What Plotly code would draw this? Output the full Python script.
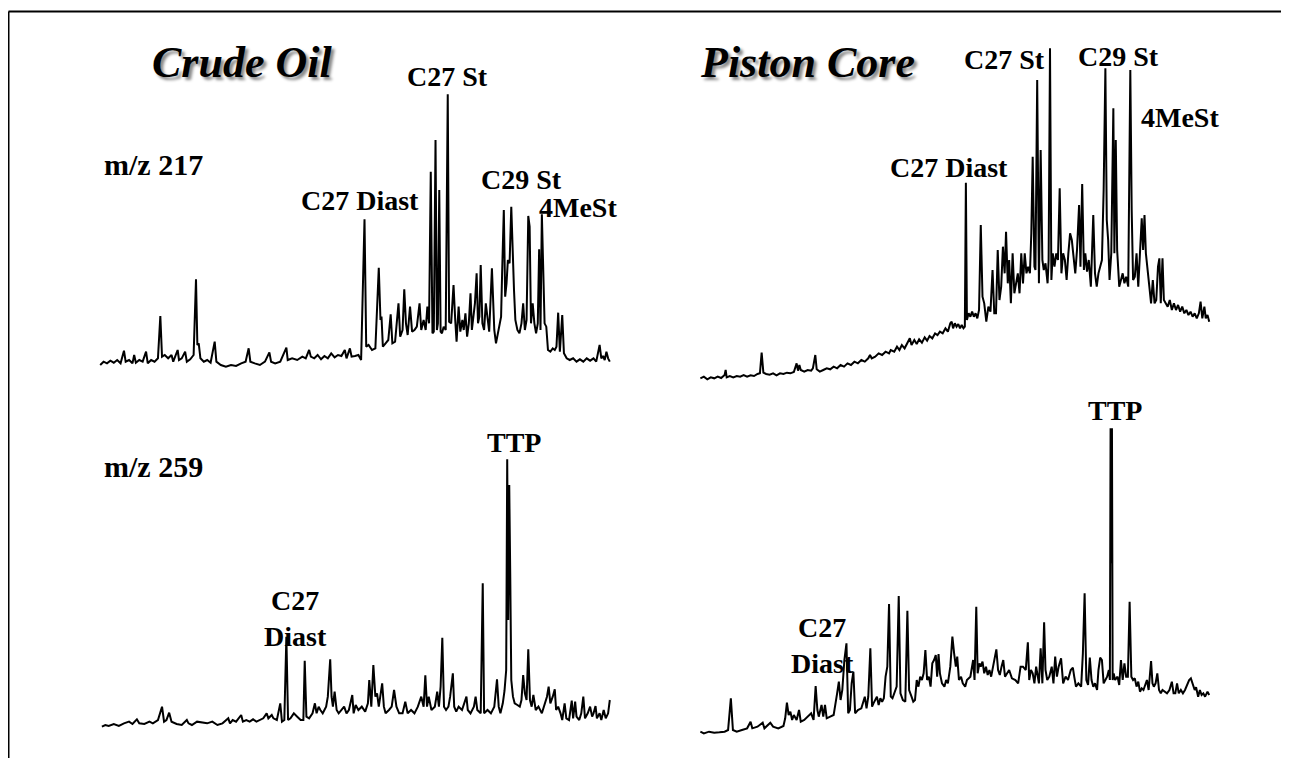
import plotly.graph_objects as go

# ---------------- data (retention scan units vs. detector reading below full scale) ----------------
FULL_SCALE = 1100

# Crude oil, m/z 217
p1_scan = [30,40,50,60,70,80,90,100,105,115,
           125,130,135,145,155,165,170,180,190,200,
           207,212,220,230,240,245,258,262,270,280,
           285,295,305,312,316,320,325,335,345,355,
           367,372,385,400,415,430,445,458,467,472,
           485,500,515,528,533,545,560,578,582,595,
           610,625,635,645,650,660,670,680,690,700,
           710,720,730,740,750,755,765,770,780,790,
           798,808,813,820,830,840,850,855,858,862,
           870,878,885,890,898,908,913,920,925,930,
           935,942,948,955,962,970,975,982,988,993,
           998,1003,1008,1012,1017,1021,1024,1028,1032,1036,
           1041,1047,1053,1057,1063,1070,1075,1079,1085,1090,
           1096,1100,1105,1110,1115,1120,1124,1128,1133,1138,
           1142,1146,1150,1155,1160,1165,1170,1175,1183,1190,
           1195,1200,1205,1210,1213,1218,1222,1226,1230,1235,
           1240,1244,1248,1252,1258,1264,1270,1275,1280,1285,
           1290,1294,1298,1303,1308,1313,1318,1322,1326,1330,
           1334,1338,1343,1348,1355,1362,1368,1373,1378,1383,
           1390,1395,1403,1412,1422,1432,1442,1452,1462,1472,
           1482,1490,1500,1505,1510,1515,1520,1525,1530]
p1_read = [1005,995,1000,992,998,990,1000,962,995,990,
           1000,975,998,990,995,965,1000,990,995,985,
           858,980,975,985,975,995,960,990,985,965,
           995,988,975,748,945,940,985,995,990,998,
           935,995,1005,1010,1005,1008,1000,995,955,995,
           1000,1005,995,967,995,1000,995,953,990,985,
           990,980,985,960,980,985,975,988,978,985,
           970,982,975,978,960,985,955,980,978,975,
           990,568,950,945,960,955,713,870,860,950,
           940,930,853,940,935,820,920,900,778,880,
           915,830,905,900,890,820,900,870,900,830,
           880,425,910,905,330,900,880,480,905,910,
           890,900,193,875,880,765,870,935,830,905,
           870,900,850,920,880,790,900,870,820,730,
           880,860,705,880,900,820,870,905,715,900,
           940,910,880,860,730,540,800,760,690,700,
           530,700,780,870,900,910,880,820,900,870,
           558,590,880,820,880,910,880,658,900,553,
           740,880,890,960,965,955,960,950,848,965,
           855,970,985,990,985,995,988,995,985,992,
           985,995,945,985,978,990,965,985,995]

# Piston core, m/z 217
p2_scan = [30,40,50,60,70,80,90,100,103,106,
           115,125,135,145,155,165,175,185,195,202,
           207,212,220,230,240,250,260,270,280,290,
           300,305,308,312,316,320,330,340,350,355,
           362,366,375,385,395,405,415,425,435,445,
           455,465,475,485,495,505,515,520,525,535,
           545,555,565,575,580,590,598,605,612,620,
           628,635,640,648,655,662,670,678,685,692,
           700,708,715,722,730,738,745,752,756,760,
           765,770,775,780,785,790,794,797,800,805,
           810,815,820,825,830,835,840,845,850,856,
           862,868,874,879,884,889,894,899,904,909,
           913,918,922,927,932,937,942,947,952,957,
           962,967,972,977,982,986,990,995,998,1003,
           1008,1013,1018,1022,1027,1033,1036,1040,1044,1048,
           1053,1058,1063,1068,1073,1078,1083,1088,1093,1098,
           1103,1108,1113,1118,1124,1128,1133,1138,1142,1147,
           1152,1158,1165,1170,1175,1180,1185,1190,1195,1200,
           1204,1208,1212,1217,1223,1226,1230,1234,1240,1245,
           1250,1255,1260,1266,1272,1276,1280,1285,1290,1295,
           1300,1305,1309,1313,1317,1322,1327,1332,1337,1342,
           1347,1352,1356,1360,1365,1369,1374,1380,1386,1392,
           1398,1404,1410,1416,1422,1428,1434,1440,1446,1452,
           1458,1464,1470,1475,1480,1486,1490,1495,1500]
p2_read = [1075,1070,1078,1072,1075,1070,1074,1065,1050,1072,
           1068,1072,1068,1070,1065,1070,1066,1068,1062,1060,
           998,1058,1062,1064,1060,1066,1060,1062,1058,1060,
           1056,1040,1030,1052,1035,1050,1055,1050,1052,1045,
           1005,1048,1055,1050,1045,1048,1040,1045,1035,1040,
           1030,1035,1025,1030,1020,1025,1015,1005,1015,1010,
           1000,1005,995,1000,990,995,980,990,975,985,
           970,955,975,960,972,958,968,952,962,948,
           955,940,945,935,940,925,935,910,905,925,
           910,920,912,925,915,925,920,488,900,880,
           890,875,890,880,895,870,615,830,850,905,
           860,875,750,880,880,690,840,800,680,760,
           635,790,720,850,700,820,790,760,820,700,
           790,700,760,740,760,640,410,740,750,180,
           790,390,720,750,730,790,720,85,780,700,
           740,700,720,505,760,700,720,780,700,640,
           660,720,760,690,555,740,492,750,700,755,
           720,800,585,760,800,760,740,720,510,145,
           600,660,780,700,265,700,360,690,800,780,
           760,790,770,800,150,570,780,770,700,800,
           690,595,690,585,700,760,800,850,780,850,
           840,740,715,850,715,840,850,860,840,870,
           850,870,855,875,860,880,870,885,875,890,
           880,895,880,845,895,860,895,885,905]

# Crude oil, m/z 259
p3_scan = [35,45,55,70,85,100,115,125,138,145,
           160,175,185,200,212,218,225,233,240,255,
           270,285,290,300,315,330,345,360,375,390,
           407,412,420,430,445,450,460,470,480,490,
           500,510,520,525,535,540,550,560,565,572,
           578,583,590,600,610,620,628,632,637,645,
           655,662,667,673,678,685,690,695,700,707,
           711,715,720,726,732,740,748,755,762,772,
           776,782,790,800,810,818,822,828,834,840,
           845,850,860,865,870,880,888,895,902,910,
           920,928,935,945,955,965,975,982,987,992,
           997,1005,1015,1022,1027,1032,1037,1042,1048,1055,
           1060,1068,1072,1078,1085,1095,1108,1112,1120,1130,
           1135,1140,1150,1156,1160,1170,1180,1190,1198,1203,
           1208,1215,1220,1225,1228,1231,1234,1237,1240,1245,
           1250,1258,1265,1270,1275,1280,1285,1290,1295,1300,
           1305,1312,1320,1330,1340,1345,1350,1355,1362,1368,
           1372,1378,1385,1390,1397,1402,1410,1418,1422,1428,
           1432,1440,1446,1452,1457,1465,1472,1478,1482,1488,
           1492,1500,1505,1512,1518,1525,1530]
p3_read = [920,915,918,912,918,910,905,912,898,910,
           912,905,910,900,860,905,900,878,905,912,
           915,900,910,915,905,908,910,905,915,910,
           895,910,900,905,885,905,900,905,898,905,
           900,895,880,895,885,895,900,850,905,900,
           650,900,895,880,890,900,900,722,890,895,
           880,850,880,860,870,880,870,860,830,718,
           830,860,815,870,880,870,860,880,870,825,
           880,855,870,860,875,850,780,860,735,830,
           820,860,790,860,880,870,860,810,860,880,
           880,845,880,870,880,860,830,860,766,860,
           830,870,860,815,860,800,653,860,870,860,
           830,760,860,875,860,870,830,870,880,860,
           830,870,880,490,880,870,880,860,778,860,
           880,850,813,750,118,600,195,470,780,830,
           850,855,860,840,765,820,840,688,840,860,
           825,870,860,880,850,830,800,850,830,808,
           870,860,880,900,850,895,900,842,895,845,
           890,900,880,830,895,880,860,890,880,858,
           895,880,900,870,895,880,840]

# Piston core, m/z 259
p4_scan = [30,40,55,70,85,100,110,118,124,135,
           150,165,175,180,195,210,215,225,232,240,
           255,270,275,280,285,290,295,300,308,315,
           320,330,340,350,357,363,368,372,380,385,
           390,395,405,415,425,430,435,440,446,452,
           457,462,467,472,477,485,495,505,510,515,
           521,526,530,540,545,550,555,560,565,570,
           575,580,585,590,597,603,608,615,622,628,
           633,640,645,650,655,660,665,670,675,680,
           685,690,695,700,705,710,714,718,722,728,
           735,740,745,752,758,763,768,772,777,783,
           788,795,800,810,818,822,827,831,836,840,
           845,850,855,860,865,870,878,885,890,895,
           900,905,910,915,922,930,940,948,955,962,
           970,976,980,985,990,995,1000,1008,1013,1018,
           1023,1027,1032,1038,1045,1050,1055,1060,1065,1072,
           1078,1085,1092,1100,1106,1110,1115,1122,1130,1135,
           1140,1145,1150,1155,1160,1165,1170,1176,1180,1185,
           1190,1195,1205,1210,1213,1215,1217,1219,1221,1224,
           1228,1235,1240,1245,1250,1255,1260,1265,1270,1275,
           1280,1285,1290,1295,1300,1305,1310,1315,1320,1325,
           1332,1336,1340,1345,1350,1355,1360,1365,1372,1378,
           1385,1392,1397,1402,1407,1412,1418,1424,1430,1435,
           1442,1447,1452,1458,1462,1468,1473,1478,1483,1488,
           1495,1500]
p4_read = [995,1000,995,998,997,995,990,895,990,995,
           990,985,965,985,980,968,985,975,968,980,
           985,978,955,908,945,935,960,945,960,930,
           965,960,950,940,960,858,930,950,915,950,
           915,955,950,945,880,845,900,870,780,730,
           940,930,850,815,940,930,925,890,925,890,
           745,920,910,890,915,895,905,895,830,800,
           612,890,895,880,860,588,880,900,905,632,
           870,890,905,900,840,860,830,840,820,750,
           840,830,860,790,780,765,830,762,820,850,
           860,840,850,800,710,760,800,770,840,830,
           850,860,840,830,780,840,620,820,790,800,
           785,820,800,825,810,830,780,748,810,825,
           800,780,830,820,810,835,840,850,800,800,
           810,727,840,810,820,850,800,850,745,850,
           667,810,840,830,800,850,770,830,800,775,
           850,830,840,810,803,830,860,850,860,760,
           580,840,855,773,840,860,850,870,810,773,
           780,850,830,810,840,85,490,85,840,820,
           840,830,855,780,840,790,830,830,605,830,
           840,835,860,845,875,865,870,855,840,870,
           783,850,860,850,820,870,880,870,875,880,
           870,845,880,880,850,880,870,880,870,855,
           840,835,850,870,862,890,870,885,880,890,
           875,885]

for a, b in [(p1_scan, p1_read), (p2_scan, p2_read), (p3_scan, p3_read), (p4_scan, p4_read)]:
    assert len(a) == len(b), (len(a), len(b))

p1_abund = [FULL_SCALE - v for v in p1_read]
p2_abund = [FULL_SCALE - v for v in p2_read]
p3_abund = [FULL_SCALE - v for v in p3_read]
p4_abund = [FULL_SCALE - v for v in p4_read]

# ---------------- layout ----------------
W, H = 1289, 758
OFF = 8  # the page body margin shifts the figure by this many pixels
FONT = "Times New Roman, Liberation Serif, Tinos, serif"


def px(x):
    return (x - OFF) / W


def py(y):
    return 1 - (y - OFF) / H


# panel boxes in page pixels: (left, top, width, height)
panels = [
    (90, 30, 530, 350, p1_scan, p1_abund),
    (690, 20, 540, 370, p2_scan, p2_abund),
    (90, 420, 530, 320, p3_scan, p3_abund),
    (690, 400, 540, 350, p4_scan, p4_abund),
]

fig = go.Figure()
layout_axes = {}
for i, (x0, y0, w, h, xs, ys) in enumerate(panels, start=1):
    sx = "" if i == 1 else str(i)
    fig.add_trace(go.Scatter(
        x=xs, y=ys, mode="lines",
        line=dict(color="black", width=2),
        xaxis="x" + sx, yaxis="y" + sx, showlegend=False, hoverinfo="skip",
    ))
    layout_axes["xaxis" + sx] = dict(domain=[px(x0), px(x0 + w)], range=[0, 1560], visible=False,
                                     anchor="y" + sx, fixedrange=True)
    layout_axes["yaxis" + sx] = dict(domain=[py(y0 + h), py(y0)], range=[FULL_SCALE - 3 * h, FULL_SCALE],
                                     visible=False, anchor="x" + sx, fixedrange=True)

fig.update_layout(**layout_axes)

annots = []

# titles with drop shadow
for txt, cx, cy in [("Crude Oil", 242, 62), ("Piston Core", 807, 62)]:
    annots.append(dict(text="<b><i>" + txt + "</i></b>", x=px(cx), y=py(cy), xref="paper", yref="paper",
                       xanchor="center", yanchor="middle", showarrow=False,
                       font=dict(family=FONT, size=44, color="black", shadow="3px 3px 3px #8a8a8a")))

labels = [
    ("C27 St", 447, 76), ("C27 Diast", 360, 200), ("C29 St", 521, 179), ("4MeSt", 578, 208),
    ("C27 St", 1004, 60), ("C29 St", 1118, 56), ("4MeSt", 1180, 118), ("C27 Diast", 949, 167),
    ("TTP", 514, 442), ("C27<br>Diast", 295, 618),
    ("TTP", 1115, 410), ("C27<br>Diast", 822, 645),
]
for txt, cx, cy in labels:
    annots.append(dict(text="<b>" + txt + "</b>", x=px(cx), y=py(cy), xref="paper", yref="paper",
                       xanchor="center", yanchor="middle", showarrow=False,
                       font=dict(family=FONT, size=28, color="black")))

for txt, lx, cy in [("m/z 217", 102, 164), ("m/z 259", 102, 466)]:
    annots.append(dict(text="<b>" + txt + "</b>", x=px(lx), y=py(cy), xref="paper", yref="paper",
                       xanchor="left", yanchor="middle", showarrow=False,
                       font=dict(family=FONT, size=30, color="black")))

shapes = [
    dict(type="line", xref="paper", yref="paper", x0=px(8.5), x1=1.0, y0=py(11.5), y1=py(11.5),
         line=dict(color="black", width=2)),
    dict(type="line", xref="paper", yref="paper", x0=px(8.5), x1=px(8.5), y0=py(11.5), y1=0,
         line=dict(color="black", width=2)),
]

fig.update_layout(
    width=W, height=H,
    margin=dict(l=0, r=0, t=0, b=0),
    paper_bgcolor="white", plot_bgcolor="white",
    annotations=annots, shapes=shapes,
    showlegend=False,
)

fig.write_html("out.html")
